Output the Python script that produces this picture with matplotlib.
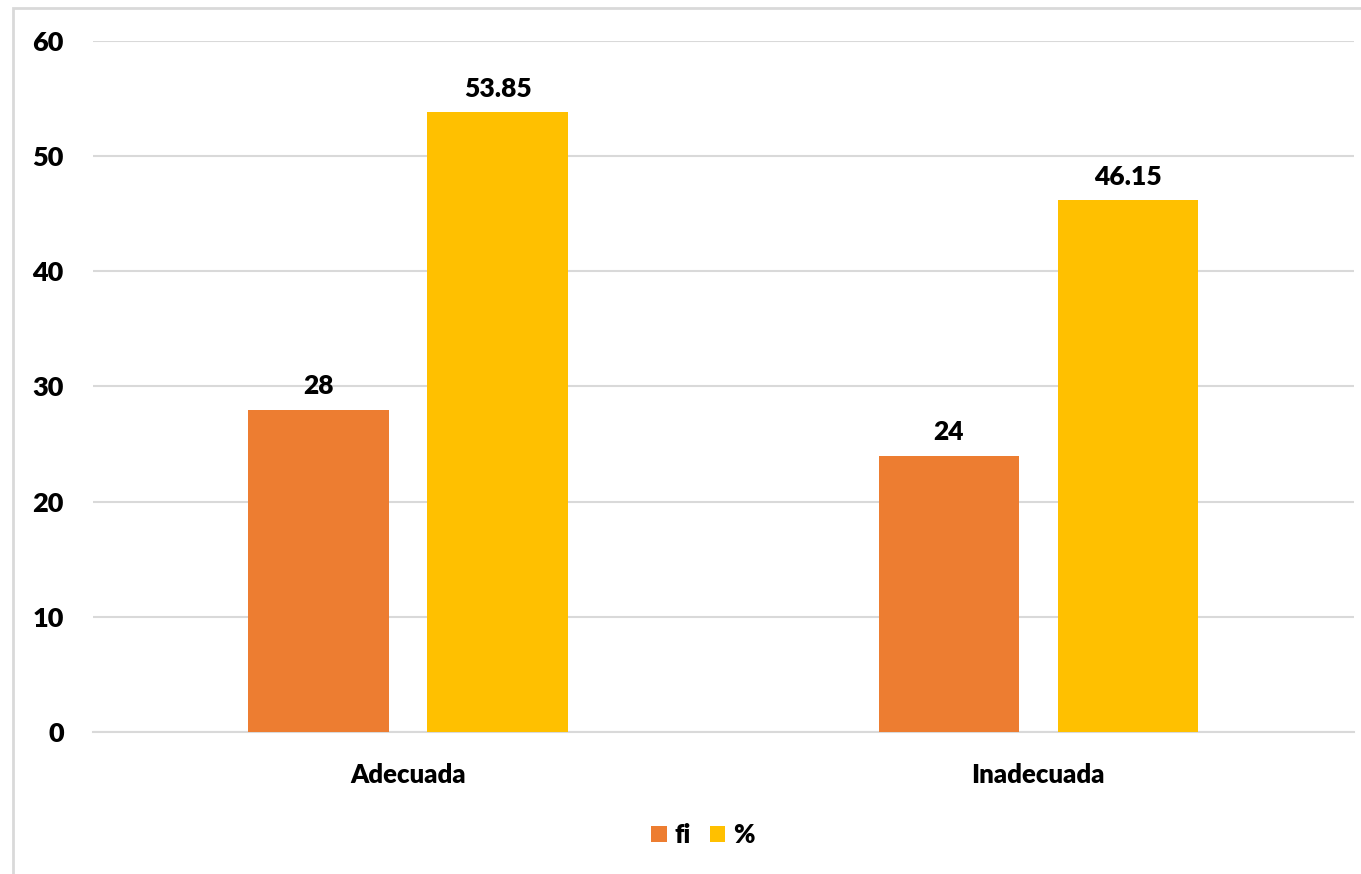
import numpy as np
import matplotlib.pyplot as plt
from matplotlib.patches import Rectangle

categorias = ['Adecuada', 'Inadecuada']
fi = [28, 24]
porcentaje = [53.85, 46.15]
etiquetas_fi = ['28', '24']
etiquetas_pct = ['53.85', '46.15']

plt.rcParams['font.family'] = ['Lato', 'DejaVu Sans']
plt.rcParams['font.weight'] = 'heavy'

fig = plt.figure(figsize=(13.61, 8.74), dpi=100)
ax = fig.add_axes([0.0683, 0.1625, 0.9262, 0.7906])

# marco gris del grafico
fig.patches.append(Rectangle((13 / 1361, -0.05), 1.1, 1 - 8 / 874 + 0.05,
                             transform=fig.transFigure, fill=False,
                             edgecolor='#d9d9d9', linewidth=2))

x = np.arange(len(categorias))
ancho = 0.223
desp = 0.142
b1 = ax.bar(x - desp, fi, ancho, color='#ED7D31', label='fi', zorder=3)
b2 = ax.bar(x + desp, porcentaje, ancho, color='#FFC000', label='%', zorder=3)

for barras, textos in ((b1, etiquetas_fi), (b2, etiquetas_pct)):
    for b, t in zip(barras, textos):
        ax.annotate(t, (b.get_x() + b.get_width() / 2, b.get_height()),
                    xytext=(0, 8), textcoords='offset points',
                    ha='center', va='bottom', fontsize=19, fontweight='heavy')

ax.set_xlim(-0.5, 1.5)
ax.set_ylim(0, 60)
ax.set_yticks(range(0, 61, 10))
ax.set_xticks(x)
ax.set_xticklabels(categorias)
ax.tick_params(axis='y', length=0, pad=21, labelsize=19.5)
ax.tick_params(axis='x', length=0, pad=22, labelsize=18.5)
ax.grid(axis='y', color='#d9d9d9', linewidth=1.5, zorder=0)
for s in ['top', 'right', 'left']:
    ax.spines[s].set_visible(False)
ax.spines['bottom'].set_color('#d9d9d9')
ax.spines['bottom'].set_linewidth(1.5)

fig.legend(loc='center', bbox_to_anchor=(703 / 1361, 1 - 835 / 874),
           ncol=2, frameon=False, fontsize=18.5, handlelength=0.6,
           handleheight=0.6, columnspacing=0.75, handletextpad=0.3)

fig.savefig('out.png', dpi=100)
